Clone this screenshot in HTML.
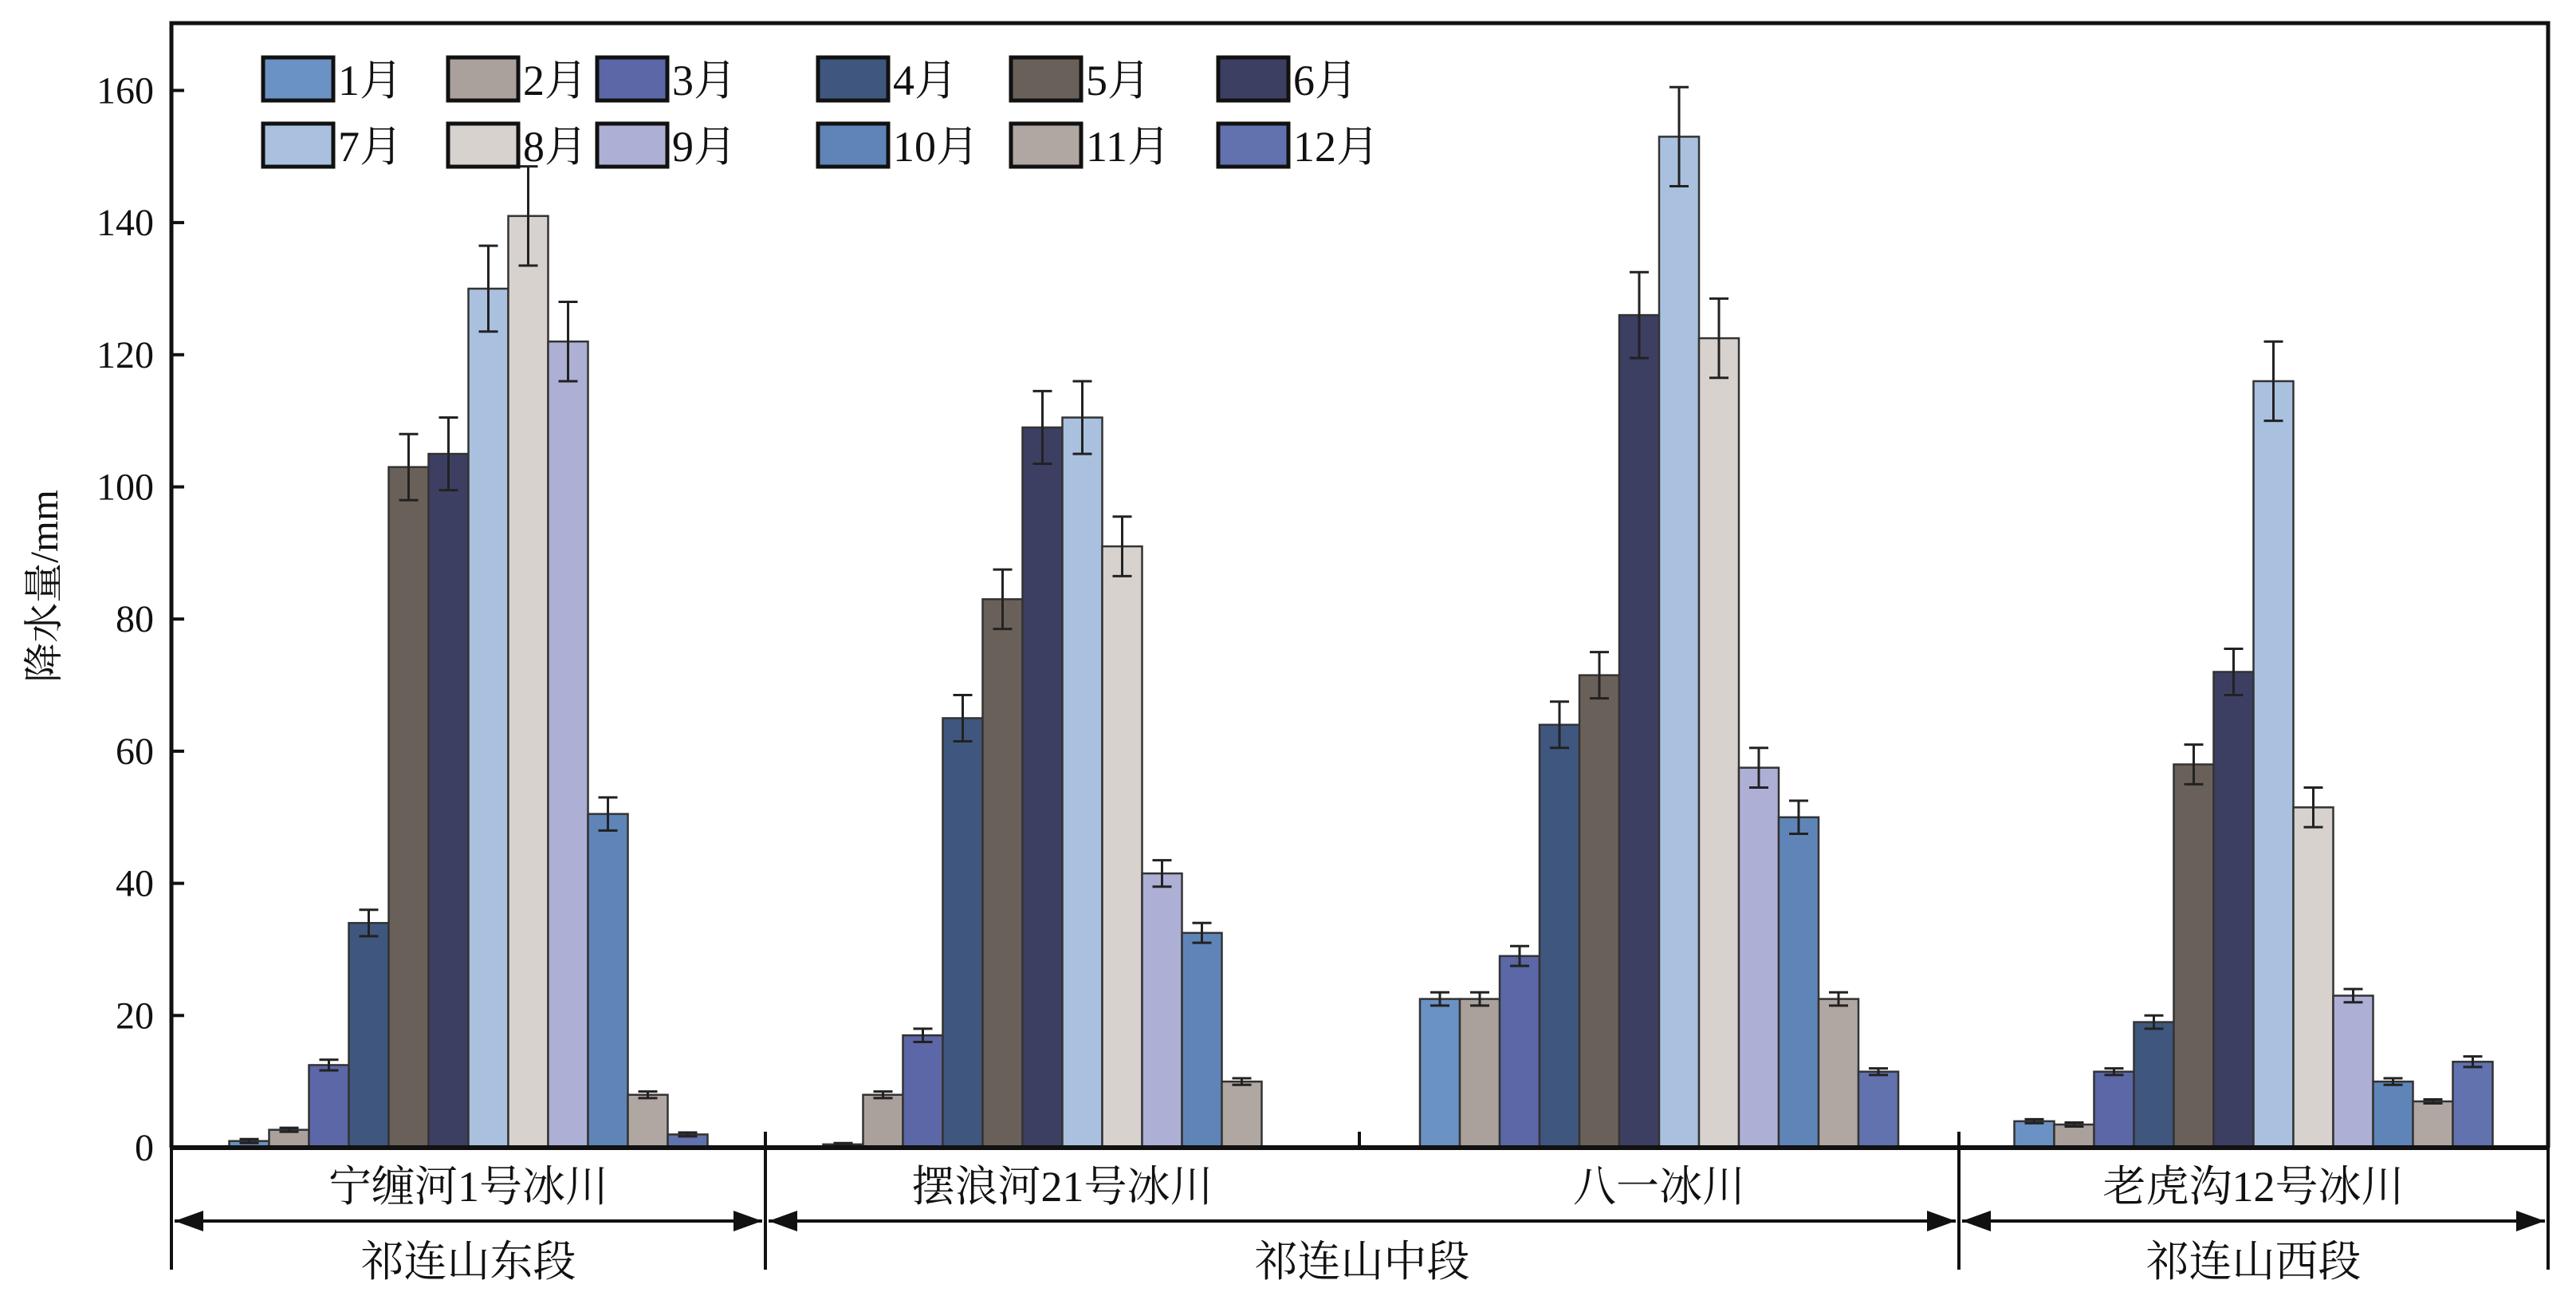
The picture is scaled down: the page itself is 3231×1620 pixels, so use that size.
<!DOCTYPE html>
<html><head><meta charset="utf-8"><style>
html,body{margin:0;padding:0;background:#fff}
svg{display:block}
text{font-family:"Liberation Serif","Noto Serif CJK SC",serif;fill:#111}
</style></head><body>
<svg id="chart" width="3231" height="1620" viewBox="0 0 3231 1620" xmlns="http://www.w3.org/2000/svg">
<g id="bars"></g>
<g id="axes"></g>
<g id="legend"></g>
</svg>
<script>
const glaciers = ["宁缠河1号冰川","摆浪河21号冰川","八一冰川","老虎沟12号冰川"];
const months = ["1月","2月","3月","4月","5月","6月","7月","8月","9月","10月","11月","12月"];
const colors = ["#6a92c4","#aaa19c","#5b67a6","#3f577e","#696159","#3c3f62","#a9c1de","#d8d2cf","#adb0d4","#5f85b8","#b0a7a2","#6272ae"];
const valsNing = [1,2.7,12.5,34,103,105,130,141,122,50.5,8,2];
const valsBai = [0.5,8,17,65,83,109,110.5,91,41.5,32.5,10,0];
const valsBayi = [22.5,22.5,29,64,71.5,126,153,122.5,57.5,50,22.5,11.5];
const valsLao = [4,3.5,11.5,19,58,72,116,51.5,23,10,7,13];
const errNing = [0.3,0.3,0.8,2,5,5.5,6.5,7.5,6,2.5,0.5,0.3];
const errBai = [0.2,0.5,1,3.5,4.5,5.5,5.5,4.5,2,1.5,0.5,0];
const errBayi = [1,1,1.5,3.5,3.5,6.5,7.5,6,3,2.5,1,0.5];
const errLao = [0.3,0.3,0.5,1,3,3.5,6,3,1,0.5,0.3,0.8];
const yTicks = [0,20,40,60,80,100,120,140,160];
const sections = ["祁连山东段","祁连山中段","祁连山西段"];

const series=[valsNing,valsBai,valsBayi,valsLao];
const errs=[errNing,errBai,errBayi,errLao];
const NS="http://www.w3.org/2000/svg";
const X0=215,X1=3196,Y0=1439,YTOP=29;
const y=v=>Y0-v*(165.7/20);
const gb=[215,960,1705,2457,3196];
const barW=50;
const gCenter=i=>(gb[i]+gb[i+1])/2;
const bx=(g,m)=>gCenter(g)-6*barW+m*barW;
function mk(tag,attrs,parent,txt){const e=document.createElementNS(NS,tag);for(const k in attrs)e.setAttribute(k,attrs[k]);if(txt!=null)e.textContent=txt;parent.appendChild(e);return e;}
const bars=document.getElementById('bars'),axes=document.getElementById('axes'),leg=document.getElementById('legend');
series.forEach((vals,g)=>{vals.forEach((v,m)=>{
 if(v<=0)return;
 const r=mk('rect',{x:bx(g,m),y:y(v),width:barW,height:Y0-y(v),fill:colors[m],stroke:'#333','stroke-width':2.5},bars);
 
 
 const e=errs[g][m];
 if(e>0){const cx=bx(g,m)+barW/2;
  const eb=mk('path',{d:`M${cx},${y(v+e)}V${y(v-e)}M${cx-12},${y(v+e)}h24M${cx-12},${y(v-e)}h24`,stroke:'#222','stroke-width':3,fill:'none'},bars);
  
  }
});});
// frame
const fr=mk('path',{d:`M${X0},${Y0}V${YTOP}H${X1}V${Y0}`,fill:'none',stroke:'#111','stroke-width':5},axes);


const xa=mk('line',{x1:X0,x2:X1,y1:Y0,y2:Y0,stroke:'#111','stroke-width':6},axes);


yTicks.forEach(t=>{
 mk('line',{x1:X0,x2:X0+16,y1:y(t),y2:y(t),stroke:'#111','stroke-width':4},axes);
 const tl=mk('text',{x:X0-22,y:y(t)+16,'font-size':48,'text-anchor':'end'},axes,t);
 
 
});
[960,1705,2457].forEach(xx=>mk('line',{x1:xx,x2:xx,y1:Y0-20,y2:Y0,stroke:'#111','stroke-width':4},axes));
const yt=mk('text',{transform:'translate(72,735) rotate(-90)','font-size':50,'text-anchor':'middle'},axes,'降水量/mm');


// lower annotation
[215,960,2457,3196].forEach(xx=>mk('line',{x1:xx,x2:xx,y1:Y0,y2:1592,stroke:'#111','stroke-width':4},axes));
glaciers.forEach((n,i)=>{const t=mk('text',{x:gCenter(i),y:1506,'font-size':54,'text-anchor':'middle'},axes,n);
 
 });
const secs=[[215,960],[960,2457],[2457,3196]];
secs.forEach((s,i)=>{
 const a=mk('path',{d:`M${s[0]+4},1531H${s[1]-4}`,stroke:'#111','stroke-width':4},axes);
 
 
 mk('path',{d:`M${s[0]+4},1531l36,-13v26z M${s[1]-4},1531l-36,-13v26z`,fill:'#111'},axes);
 const t=mk('text',{x:(s[0]+s[1])/2,y:1600,'font-size':54,'text-anchor':'middle'},axes,sections[i]);
 
 
});
// legend
const lcols=[330,562,749,1026,1268,1528], lrows=[72,155];
months.forEach((m,i)=>{const c=i%6,r=Math.floor(i/6);
 const g=mk('g',{},leg);
 
 
 mk('rect',{x:lcols[c],y:lrows[r],width:88,height:54,fill:colors[i],stroke:'#111','stroke-width':5},g);
 mk('text',{x:lcols[c]+94,y:lrows[r]+47,'font-size':54},g,m);
});
</script>
</body></html>
